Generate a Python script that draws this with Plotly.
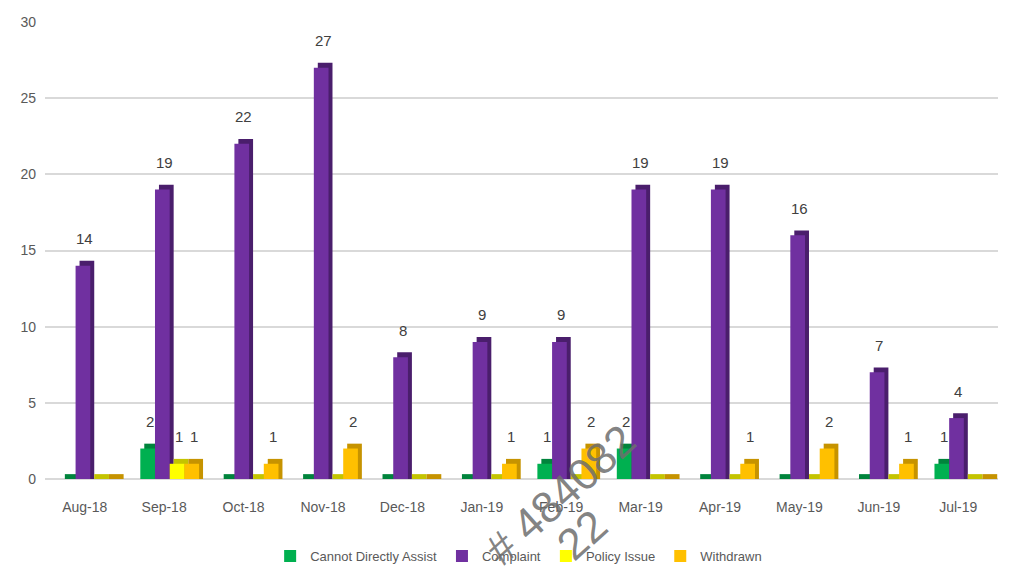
import plotly.graph_objects as go

months = ["Aug-18", "Sep-18", "Oct-18", "Nov-18", "Dec-18", "Jan-19",
          "Feb-19", "Mar-19", "Apr-19", "May-19", "Jun-19", "Jul-19"]
cannot_assist = [0, 2, 0, 0, 0, 0, 1, 2, 0, 0, 0, 1]
complaint = [14, 19, 22, 27, 8, 9, 9, 19, 19, 16, 7, 4]
policy_issue = [0, 1, 0, 0, 0, 0, 0, 0, 0, 0, 0, 0]
withdrawn = [0, 1, 1, 2, 0, 1, 2, 0, 1, 2, 1, 0]

# (name, values, face colour, side colour, offset within category)
series = [
    ("Cannot Directly Assist", cannot_assist, "#00B050", "#00843C", -0.30),
    ("Complaint", complaint, "#7030A0", "#4A1E6C", -0.115),
    ("Policy Issue", policy_issue, "#FFFF00", "#C4C400", 0.07),
    ("Withdrawn", withdrawn, "#FFC000", "#C69300", 0.255),
]

FONT = "Liberation Sans, Arial, sans-serif"
BAR_W = 0.185
DEPTH_X = 0.05    # pseudo-3D depth (category units)
DEPTH_Y = 0.32    # pseudo-3D depth (axis units)

fig = go.Figure()
# depth (side / top) faces drawn first
for name, vals, col, dark, off in series:
    fig.add_trace(go.Bar(
        name=name, x=months, y=[v + DEPTH_Y for v in vals], base=0,
        width=BAR_W, offset=off + DEPTH_X,
        marker=dict(color=dark, line=dict(width=0)),
        showlegend=False, hoverinfo="skip",
    ))
# front faces
for name, vals, col, dark, off in series:
    fig.add_trace(go.Bar(
        name=name, x=months, y=vals,
        width=BAR_W, offset=off,
        marker=dict(color=col, line=dict(width=0)),
    ))

W, H = 1015, 568
ml, mr, mt, mb = 45, 17, 22, 89
pw, ph = W - ml - mr, H - mt - mb

def px(x):
    return (x - ml) / pw

def py(y):
    return (H - mb - y) / ph

annotations = []
for name, vals, col, dark, off in series:
    for i, v in enumerate(vals):
        if v:
            annotations.append(dict(
                x=i + off + BAR_W / 2 + DEPTH_X / 2, y=v, xref="x", yref="y",
                text=str(v), showarrow=False, yshift=27,
                xanchor="center", yanchor="middle",
                font=dict(size=15, color="#404040", family=FONT),
            ))

annotations += [
    dict(text="# 484082", xref="paper", yref="paper", x=px(560), y=py(494),
         xanchor="center", yanchor="middle",
         showarrow=False, textangle=-42,
         font=dict(size=44, color="rgba(110,110,110,0.85)", family=FONT)),
    dict(text=". 22", xref="paper", yref="paper", x=px(572), y=py(543),
         xanchor="center", yanchor="middle",
         showarrow=False, textangle=-42,
         font=dict(size=44, color="rgba(110,110,110,0.85)", family=FONT)),
]

fig.update_layout(
    width=W, height=H,
    margin=dict(l=ml, r=mr, t=mt, b=mb, autoexpand=False),
    paper_bgcolor="white", plot_bgcolor="white",
    barmode="overlay",
    font=dict(family=FONT, color="#595959", size=14),
    showlegend=True,
    legend=dict(orientation="h", x=0.497, xanchor="center",
                yref="container", y=(H - 556) / H, yanchor="middle",
                font=dict(size=13, color="#595959", family=FONT),
                itemwidth=30, tracegroupgap=0),
    xaxis=dict(showgrid=False, showline=False, ticks="", ticklabelstandoff=18,
               tickfont=dict(size=14, color="#595959")),
    yaxis=dict(range=[0, 30], dtick=5, showgrid=True, gridcolor="#D9D9D9", gridwidth=2,
               zeroline=True, zerolinecolor="#D9D9D9", zerolinewidth=2,
               showline=False, ticks="", ticklabelstandoff=8,
               tickfont=dict(size=14, color="#595959")),
    annotations=annotations,
)

fig.write_html("out.html")
